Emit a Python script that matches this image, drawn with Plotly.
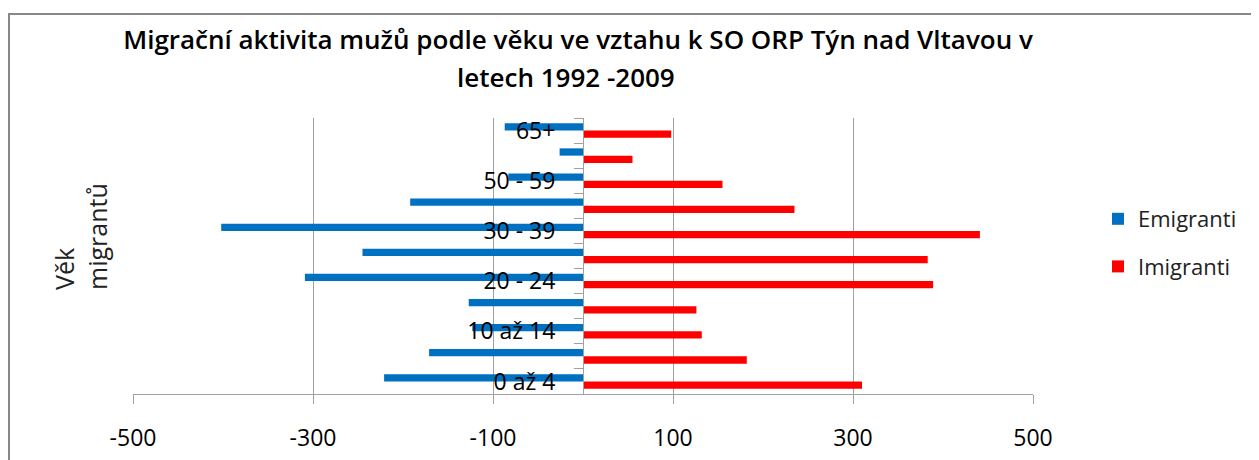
import plotly.graph_objects as go

categories = ["0 až 4", "5 až 9", "10 až 14", "15 až 19", "20 - 24", "25 - 29",
              "30 - 39", "40 - 49", "50 - 59", "60 - 64", "65+"]
tick_labels = ["0 až 4", "", "10 až 14", "", "20 - 24", "", "30 - 39", "", "50 - 59", "", "65+"]
emigranti = [-221, -171, -123, -127, -309, -245, -402, -192, -83, -26, -87]
imigranti = [310, 182, 132, 126, 389, 383, 441, 235, 155, 55, 98]
x_ticks = [-500, -300, -100, 100, 300, 500]
x_tick_labels = ["-500", "-300", "-100", "100", "300", "500"]
title_lines = ["Migrační aktivita mužů podle věku ve vztahu k SO ORP Týn nad Vltavou v",
               "letech 1992 -2009"]

# page body has an 8px margin; work in reference-image coordinates and shift
OFF = 8
W, H = 1259 - OFF, 460 - OFF
PL, PR, PT, PB = 133, 1033, 118, 394  # plot area in reference coords
L, R, T, B = PL - OFF, W - (PR - OFF), PT - OFF, H - (PB - OFF)
pw, ph = PR - PL, PB - PT

def px(x):
    return (x - PL) / pw

def py(y):
    return (PB - y) / ph

FONT = "Open Sans"
GRID = "#A0A0A0"

fig = go.Figure()
fig.add_trace(go.Bar(y=categories, x=imigranti, orientation="h", name="Imigranti",
                     marker=dict(color="#FF0000", line=dict(width=0)),
                     legendrank=2, legendgroup="b"))
fig.add_trace(go.Bar(y=categories, x=emigranti, orientation="h", name="Emigranti",
                     marker=dict(color="#0070C0", line=dict(width=0)),
                     legendrank=1, legendgroup="a"))

fig.update_layout(
    width=W, height=H,
    margin=dict(l=L, r=R, t=T, b=B, autoexpand=False),
    paper_bgcolor="white", plot_bgcolor="white",
    barmode="group", bargap=0.42, bargroupgap=0,
    font=dict(family=FONT, color="black"),
    title=dict(text=title_lines[0],
               x=(578 - OFF) / W, xref="container", xanchor="center",
               y=1 - (40 - OFF) / H, yref="container", yanchor="middle",
               font=dict(family=FONT, size=26, weight=600, color="black")),
    xaxis=dict(range=[-500, 500], tickmode="array", tickvals=x_ticks, ticktext=x_tick_labels,
               showgrid=True, gridcolor=GRID, gridwidth=1, zeroline=False,
               showline=True, linecolor=GRID, linewidth=1,
               ticks="outside", ticklen=9, tickcolor=GRID,
               tickfont=dict(family=FONT, size=23, color="black"),
               ticklabelstandoff=14, fixedrange=True),
    yaxis=dict(type="category", categoryorder="array", categoryarray=categories,
               range=[-0.5, len(categories) - 0.5],
               tickmode="array", tickvals=categories, ticktext=tick_labels,
               tickson="boundaries", ticks="outside", ticklen=9, tickcolor=GRID,
               showgrid=False, showline=True, linecolor=GRID, linewidth=1,
               anchor="free", position=0.5,
               tickfont=dict(family=FONT, size=23, color="black"),
               ticklabelstandoff=23),
    legend=dict(x=px(1098), xanchor="left", y=py(198), yanchor="top",
                traceorder="grouped", tracegroupgap=16,
                font=dict(family=FONT, size=22, color="#222222"),
                bgcolor="rgba(0,0,0,0)"),
    showlegend=True,
)

fig.add_annotation(text=title_lines[1], x=px(566), y=py(77), xref="paper", yref="paper",
                   xanchor="center", yanchor="middle", showarrow=False,
                   font=dict(family=FONT, size=26, weight=600, color="black"))

fig.add_annotation(text="Věk<br>migrantů", textangle=-90, align="left",
                   x=px(80), y=py(237), xref="paper", yref="paper",
                   xanchor="center", yanchor="middle", showarrow=False,
                   font=dict(family=FONT, size=25, color="#222222"))

fig.add_shape(type="rect", xref="paper", yref="paper",
              x0=px(OFF + 1), x1=px(1290), y0=py(490), y1=py(14),
              line=dict(color="#878787", width=2), fillcolor="rgba(0,0,0,0)", layer="below")

fig.write_html("out.html")
